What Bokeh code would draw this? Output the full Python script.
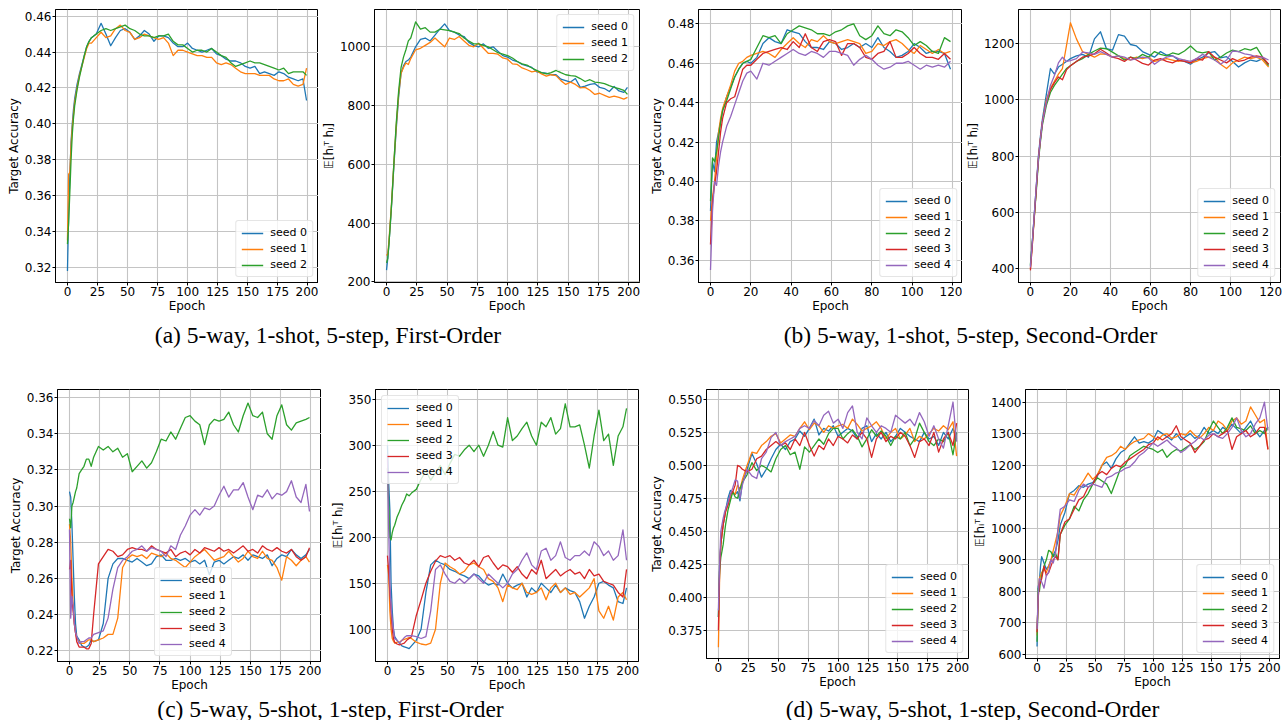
from bokeh.plotting import figure
from bokeh.layouts import column, row
from bokeh.models import Range1d, FixedTicker, PrintfTickFormatter, Legend, LegendItem, Label
from bokeh.embed import file_html
from bokeh.resources import INLINE

# ---------------- epochs (x values) ----------------
EPOCHS_200 = [0, 1, 2, 3, 4, 5, 6,
              8, 10, 12, 14, 16, 18, 20,
              24, 28, 32, 36, 40, 44, 48, 52, 56, 60, 64, 68, 72, 76, 80, 84, 88, 92, 96, 100, 104, 108,
              112, 116, 120, 124, 128, 132, 136, 140, 144, 148, 152, 156, 160, 164, 168, 172, 176, 180, 184, 188, 192, 196, 199]
EPOCHS_120 = [0, 1, 2, 3, 4, 5, 6,
              8, 10, 12, 14, 16, 18, 20,
              23, 26, 29, 32, 35, 38, 41, 44, 47, 50, 53, 56, 59, 62, 65, 68,
              71, 74, 77, 80, 83, 86, 89, 92, 95, 98, 101, 104, 107, 110, 113, 116, 119]

SEED_LABELS = ["seed 0", "seed 1", "seed 2", "seed 3", "seed 4"]
SEED_COLORS = ["#1f77b4", "#ff7f0e", "#2ca02c", "#d62728", "#9467bd"]

# ---------------- (a) 5-way 1-shot 5-step first order ----------------
a_acc_s0 = [.318, .350, .372, .390, .400, .408, .414,
            .422, .428, .433, .438, .443, .446, .448,
            .450, .456, .450, .4435, .448, .452, .453, .451, .447, .449, .452, .450, .446, .449, .449, .448, .445, .443, .443, .445, .442, .441,
            .440, .441, .442, .439, .438, .436, .435, .435, .434, .432, .431, .432, .428, .429, .428, .427, .429, .428, .426, .425, .424, .425, .413]
a_acc_s1 = [.335, .372, .373, .388, .398, .405, .412,
            .420, .427, .432, .437, .442, .445, .445,
            .448, .451, .448, .449, .453, .455, .452, .451, .447, .448, .450, .449, .448, .447, .448, .445, .438, .441, .441, .440, .439, .438,
            .438, .437, .437, .434, .433, .434, .433, .431, .429, .428, .428, .428, .427, .427, .427, .425, .424, .424, .425, .422, .421, .422, .431]
a_acc_s2 = [.333, .345, .362, .380, .394, .403, .410,
            .419, .426, .432, .438, .443, .446, .448,
            .450, .452, .453, .452, .453, .454, .455, .453, .452, .450, .449, .449, .448, .449, .449, .450, .446, .444, .444, .442, .440, .441,
            .441, .440, .442, .440, .438, .437, .434, .432, .433, .434, .435, .434, .434, .433, .432, .431, .430, .431, .428, .429, .429, .429, .427]

a_hth_s0 = [240, 280, 330, 390, 450, 520, 590,
            720, 830, 910, 935, 950, 955, 965,
            1000, 1025, 1030, 1020, 1040, 1060, 1078, 1055, 1050, 1040, 1035, 1015, 1005, 1000, 1010, 995, 1000, 985, 970, 965, 955, 950,
            940, 935, 930, 915, 912, 910, 905, 905, 890, 885, 880, 892, 862, 866, 872, 875, 862, 858, 848, 865, 850, 845, 862]
a_hth_s1 = [290, 295, 340, 400, 460, 530, 600,
            730, 840, 910, 930, 945, 940, 960,
            990, 995, 1005, 1015, 1030, 1015, 1000, 1030, 1025, 1035, 1020, 1005, 1000, 1012, 995, 978, 978, 975, 962, 958, 942, 940,
            928, 922, 915, 918, 908, 900, 905, 902, 885, 872, 880, 872, 860, 862, 852, 838, 842, 835, 828, 832, 828, 822, 828]
a_hth_s2 = [265, 280, 330, 390, 455, 525, 600,
            740, 850, 930, 965, 990, 1020, 1030,
            1085, 1060, 1065, 1050, 1050, 1060, 1058, 1055, 1050, 1045, 1030, 1020, 1010, 1010, 1005, 1000, 990, 980, 975, 970, 962, 950,
            942, 938, 928, 920, 912, 908, 912, 920, 912, 905, 902, 900, 892, 882, 888, 880, 878, 875, 868, 862, 858, 852, 838]

# ---------------- (b) 5-way 1-shot 5-step second order ----------------
b_acc_s0 = [.385, .410, .405, .420, .425, .430, .436,
            .443, .448, .453, .457, .460, .461, .460,
            .463, .470, .473, .471, .470, .477, .476, .475, .471, .468, .468, .467, .471, .470, .467, .468,
            .470, .468, .470, .468, .473, .468, .466, .463, .464, .466, .470, .468, .465, .466, .466, .465, .457]
b_acc_s1 = [.380, .392, .400, .412, .425, .432, .437,
            .443, .449, .456, .460, .461, .463, .464,
            .465, .466, .465, .463, .467, .470, .473, .470, .468, .472, .471, .474, .471, .470, .471, .472,
            .471, .470, .465, .466, .470, .469, .471, .472, .470, .467, .465, .469, .467, .465, .467, .465, .466]
b_acc_s2 = [.390, .412, .410, .415, .422, .430, .436,
            .441, .447, .453, .457, .460, .461, .462,
            .468, .474, .473, .474, .470, .475, .477, .479, .478, .477, .475, .475, .474, .476, .477, .479,
            .480, .474, .472, .474, .479, .475, .474, .477, .476, .473, .469, .471, .469, .466, .465, .473, .471]
b_acc_s3 = [.368, .390, .398, .405, .415, .425, .432,
            .440, .442, .443, .450, .457, .459, .459,
            .462, .465, .466, .467, .468, .467, .471, .468, .475, .468, .466, .471, .472, .471, .464, .470,
            .470, .468, .463, .462, .465, .466, .471, .463, .463, .465, .468, .465, .463, .463, .462, .465, .462]
b_acc_s4 = [.355, .385, .400, .398, .408, .415, .420,
            .428, .433, .439, .445, .451, .455, .456,
            .452, .460, .459, .461, .463, .465, .467, .465, .464, .466, .465, .463, .466, .466, .465, .464,
            .459, .462, .464, .462, .459, .457, .458, .460, .460, .461, .459, .457, .459, .458, .459, .458, .461]

b_hth_s0 = [410, 500, 600, 700, 800, 870, 930,
            1020, 1110, 1090, 1115, 1125, 1135, 1145,
            1155, 1160, 1150, 1215, 1240, 1180, 1175, 1230, 1225, 1195, 1190, 1170, 1160, 1150, 1170, 1158,
            1155, 1140, 1135, 1125, 1140, 1150, 1165, 1170, 1148, 1152, 1135, 1115, 1130, 1140, 1135, 1145, 1125]
b_hth_s1 = [400, 490, 590, 690, 790, 860, 920,
            1000, 1040, 1065, 1090, 1110, 1190, 1272,
            1215, 1170, 1160, 1150, 1162, 1160, 1150, 1155, 1145, 1140, 1150, 1145, 1150, 1135, 1140, 1145,
            1140, 1135, 1140, 1130, 1135, 1145, 1150, 1150, 1125, 1110, 1130, 1140, 1150, 1145, 1150, 1140, 1115]
b_hth_s2 = [415, 500, 590, 680, 780, 850, 910,
            980, 1025, 1050, 1070, 1090, 1110, 1120,
            1135, 1145, 1160, 1172, 1182, 1180, 1168, 1155, 1140, 1150, 1145, 1160, 1150, 1170, 1160, 1155,
            1165, 1160, 1172, 1190, 1170, 1165, 1170, 1140, 1150, 1165, 1175, 1170, 1180, 1175, 1185, 1150, 1120]
b_hth_s3 = [395, 490, 590, 690, 790, 860, 920,
            990, 1035, 1060, 1080, 1070, 1105, 1120,
            1135, 1150, 1155, 1162, 1178, 1165, 1150, 1145, 1135, 1150, 1140, 1128, 1122, 1140, 1145, 1135,
            1130, 1140, 1135, 1130, 1145, 1140, 1170, 1150, 1140, 1130, 1145, 1135, 1140, 1150, 1155, 1150, 1125]
b_hth_s4 = [405, 500, 600, 700, 790, 860, 920,
            990, 1050, 1085, 1130, 1150, 1135, 1138,
            1145, 1168, 1165, 1160, 1170, 1160, 1150, 1155, 1150, 1140, 1145, 1150, 1148, 1125, 1140, 1150,
            1155, 1145, 1140, 1135, 1145, 1160, 1150, 1140, 1125, 1140, 1172, 1170, 1162, 1158, 1150, 1150, 1140]

# ---------------- (c) 5-way 5-shot 1-step first order ----------------
c_acc_s0 = [.308, .305, .290, .270, .250, .235, .228,
            .226, .223, .222, .222, .223, .226, .225,
            .226, .235, .260, .268, .271, .271, .270, .269, .271, .269, .267, .268, .272, .273, .270, .270, .271, .270, .271, .269, .270, .268,
            .270, .262, .269, .270, .268, .270, .272, .271, .273, .270, .273, .272, .271, .273, .267, .271, .273, .272, .276, .273, .271, .273, .276]
c_acc_s1 = [.290, .280, .260, .245, .235, .230, .227,
            .225, .224, .224, .225, .226, .226, .225,
            .226, .227, .229, .229, .238, .266, .271, .273, .272, .273, .271, .274, .273, .272, .274, .271, .270, .268, .266, .269, .272, .274,
            .276, .273, .270, .271, .272, .275, .272, .269, .271, .275, .272, .271, .275, .271, .270, .266, .259, .272, .270, .267, .270, .272, .269]
c_acc_s2 = [.293, .288, .300, .302, .305, .308, .310,
            .318, .320, .322, .326, .326, .322, .327,
            .333, .331, .333, .330, .332, .327, .329, .319, .322, .325, .321, .324, .330, .337, .336, .341, .337, .343, .349, .350, .347, .345,
            .334, .345, .348, .347, .348, .352, .345, .341, .350, .357, .350, .349, .352, .340, .337, .350, .356, .345, .342, .346, .347, .348, .349]
c_acc_s3 = [.265, .270, .250, .242, .235, .230, .225,
            .222, .222, .222, .221, .221, .224, .240,
            .268, .272, .276, .275, .272, .273, .276, .277, .276, .276, .275, .278, .276, .275, .274, .276, .272, .274, .275, .273, .276, .274,
            .277, .276, .275, .277, .275, .276, .274, .276, .278, .275, .276, .274, .278, .276, .275, .277, .275, .274, .276, .272, .270, .272, .277]
c_acc_s4 = [.287, .238, .250, .245, .235, .230, .228,
            .224, .225, .225, .226, .227, .227, .229,
            .230, .231, .238, .254, .266, .270, .272, .275, .276, .278, .275, .277, .276, .275, .272, .278, .276, .284, .289, .295, .298, .295,
            .299, .298, .300, .306, .311, .305, .309, .309, .313, .305, .298, .306, .305, .309, .304, .307, .306, .308, .314, .305, .302, .312, .297]

c_hth_s0 = [300, 260, 230, 150, 120, 100, 92,
            88, 85, 82, 81, 80, 79, 82,
            88, 100, 140, 170, 175, 172, 170, 165, 163, 160, 158, 155, 160, 158, 152, 148, 150, 148, 160, 150, 145, 148,
            150, 135, 145, 140, 150, 145, 140, 148, 140, 145, 142, 140, 130, 112, 125, 135, 150, 152, 148, 145, 130, 128, 145]
c_hth_s1 = [170, 160, 120, 100, 90, 87, 85,
            86, 86, 88, 89, 90, 91, 90,
            86, 84, 83, 85, 100, 150, 172, 168, 165, 160, 163, 170, 172, 168, 165, 155, 152, 145, 130, 148, 145, 143,
            150, 140, 138, 140, 145, 132, 145, 150, 140, 145, 138, 140, 135, 140, 145, 155, 120, 112, 125, 110, 135, 140, 132]
c_hth_s2 = [275, 240, 200, 197, 205, 210, 213,
            222, 228, 235, 240, 247, 245, 248,
            252, 263, 272, 262, 270, 278, 268, 280, 290, 288, 295, 300, 293, 300, 288, 300, 315, 300, 298, 330, 305, 310,
            318, 325, 310, 300, 325, 320, 330, 312, 318, 345, 320, 320, 322, 300, 275, 310, 338, 305, 312, 278, 310, 320, 340]
c_hth_s3 = [180, 165, 140, 120, 100, 90, 86,
            84, 83, 84, 85, 88, 90, 92,
            115, 132, 150, 163, 174, 180, 178, 180, 175, 178, 172, 170, 175, 168, 178, 180, 172, 165, 170, 168, 162, 168,
            160, 155, 165, 160, 175, 155, 160, 165, 158, 162, 165, 160, 162, 155, 165, 158, 160, 152, 150, 148, 140, 135, 165]
c_hth_s4 = [290, 210, 150, 125, 110, 100, 90,
            88, 85, 88, 91, 93, 93, 93,
            92, 90, 92, 120, 165, 170, 160, 152, 150, 155, 150, 155, 160, 155, 150, 160, 155, 150, 145, 150, 160, 165,
            175, 183, 170, 165, 185, 188, 175, 180, 195, 178, 175, 180, 180, 185, 180, 195, 190, 180, 185, 175, 180, 208, 175]

# ---------------- (d) 5-way 5-shot 1-step second order ----------------
d_acc_s0 = [.385, .425, .440, .448, .455, .460, .466,
            .475, .481, .479, .478, .480, .473, .487,
            .497, .509, .501, .491, .497, .505, .512, .516, .512, .518, .520, .526, .522, .528, .535, .523, .528, .526, .530, .522, .525, .528,
            .526, .520, .528, .530, .518, .524, .520, .525, .518, .522, .528, .525, .522, .520, .518, .525, .520, .522, .515, .525, .520, .528, .520]
d_acc_s1 = [.362, .415, .440, .448, .456, .460, .465,
            .470, .475, .480, .478, .485, .482, .489,
            .500, .510, .509, .515, .518, .522, .524, .517, .520, .523, .522, .528, .533, .527, .532, .530, .525, .530, .528, .530, .531, .528,
            .535, .531, .526, .528, .530, .533, .528, .520, .525, .528, .520, .523, .528, .518, .522, .520, .524, .528, .526, .530, .527, .533, .507]
d_acc_s2 = [.385, .420, .430, .435, .440, .448, .455,
            .466, .473, .480, .476, .475, .482, .487,
            .493, .502, .496, .500, .498, .495, .505, .512, .515, .508, .510, .497, .514, .510, .515, .520, .516, .524, .528, .528, .520, .524,
            .527, .522, .514, .520, .527, .522, .526, .522, .515, .522, .520, .525, .515, .520, .532, .525, .518, .515, .520, .518, .525, .508, .525]
d_acc_s3 = [.375, .420, .440, .448, .455, .460, .465,
            .470, .478, .480, .485, .500, .499, .497,
            .495, .497, .505, .507, .512, .515, .518, .515, .517, .512, .520, .515, .525, .515, .507, .515, .512, .520, .515, .522, .520, .517,
            .523, .520, .525, .520, .506, .520, .525, .518, .522, .520, .525, .522, .515, .506, .518, .520, .515, .525, .510, .520, .525, .515, .532]
d_acc_s4 = [.390, .425, .450, .455, .460, .464, .467,
            .472, .478, .483, .489, .488, .475, .485,
            .497, .492, .490, .505, .510, .521, .525, .515, .518, .520, .522, .528, .530, .528, .534, .530, .538, .541, .532, .535, .528, .540,
            .545, .525, .520, .536, .530, .525, .530, .528, .525, .538, .535, .532, .535, .530, .540, .533, .522, .530, .520, .513, .530, .548, .518]

d_hth_s0 = [625, 815, 830, 880, 910, 900, 890,
            870, 880, 900, 915, 930, 960, 1010,
            1050, 1110, 1120, 1135, 1130, 1140, 1145, 1165, 1200, 1210, 1190, 1220, 1240, 1250, 1270, 1290, 1270, 1275, 1270, 1280, 1310, 1300,
            1290, 1280, 1300, 1280, 1290, 1300, 1285, 1295, 1320, 1300, 1310, 1300, 1320, 1310, 1330, 1315, 1300, 1320, 1340, 1310, 1290, 1310, 1320]
d_hth_s1 = [660, 790, 840, 850, 860, 865, 870,
            860, 880, 900, 930, 960, 990, 1040,
            1070, 1110, 1105, 1130, 1150, 1175, 1155, 1170, 1200, 1225, 1230, 1240, 1260, 1250, 1265, 1275, 1280, 1285, 1300, 1290, 1280, 1295,
            1300, 1285, 1290, 1300, 1295, 1310, 1295, 1285, 1300, 1320, 1310, 1340, 1330, 1310, 1340, 1350, 1330, 1340, 1385, 1360, 1335, 1345, 1250]
d_hth_s2 = [640, 810, 800, 830, 850, 865, 880,
            900, 930, 925, 910, 920, 900, 980,
            1010, 1030, 1070, 1055, 1090, 1110, 1140, 1160, 1150, 1140, 1110, 1150, 1190, 1200, 1230, 1240, 1250, 1260, 1255, 1250, 1240, 1250,
            1225, 1240, 1250, 1245, 1255, 1265, 1250, 1260, 1275, 1310, 1340, 1320, 1300, 1320, 1350, 1320, 1315, 1310, 1325, 1300, 1310, 1300, 1320]
d_hth_s3 = [670, 780, 820, 830, 840, 860, 880,
            850, 860, 880, 900, 910, 900, 980,
            1020, 1030, 1060, 1090, 1100, 1130, 1140, 1170, 1180, 1170, 1190, 1200, 1195, 1210, 1220, 1230, 1240, 1250, 1265, 1270, 1290, 1280,
            1290, 1300, 1325, 1290, 1280, 1270, 1240, 1260, 1280, 1285, 1300, 1290, 1300, 1310, 1250, 1290, 1300, 1310, 1290, 1300, 1320, 1320, 1250]
d_hth_s4 = [680, 790, 840, 835, 830, 820, 810,
            850, 860, 900, 890, 920, 1000, 1060,
            1070, 1090, 1085, 1120, 1140, 1130, 1140, 1135, 1130, 1160, 1165, 1175, 1180, 1190, 1195, 1210, 1230, 1240, 1255, 1270, 1260, 1270,
            1280, 1265, 1255, 1240, 1250, 1265, 1275, 1290, 1280, 1295, 1300, 1290, 1285, 1300, 1320, 1350, 1310, 1290, 1300, 1330, 1350, 1400, 1310]

# ---------------- ticks / labels ----------------
XTICKS_200 = [0, 25, 50, 75, 100, 125, 150, 175, 200]
XTICKS_120 = [0, 20, 40, 60, 80, 100, 120]
YT_A_ACC = [0.32, 0.34, 0.36, 0.38, 0.40, 0.42, 0.44, 0.46]
YT_A_HTH = [200, 400, 600, 800, 1000]
YT_B_ACC = [0.36, 0.38, 0.40, 0.42, 0.44, 0.46, 0.48]
YT_B_HTH = [400, 600, 800, 1000, 1200]
YT_C_ACC = [0.22, 0.24, 0.26, 0.28, 0.30, 0.32, 0.34, 0.36]
YT_C_HTH = [100, 150, 200, 250, 300, 350]
YT_D_ACC = [0.375, 0.400, 0.425, 0.450, 0.475, 0.500, 0.525, 0.550]
YT_D_HTH = [600, 700, 800, 900, 1000, 1100, 1200, 1300, 1400]

ACC_LABEL = "Target Accuracy"
HTH_LABEL = "\U0001D53C[h\u1D62\u1D40 h\u2C7C]"
CAPTIONS = ["(a) 5-way, 1-shot, 5-step, First-Order",
            "(b) 5-way, 1-shot, 5-step, Second-Order",
            "(c) 5-way, 5-shot, 1-step, First-Order",
            "(d) 5-way, 5-shot, 1-step, Second-Order"]

FONT = "DejaVu Sans"


def panel(xs, series, xr, yr, xticks, yticks, yfmt, ylabel, legend_loc, legend_margin,
          fw, fh, bl, bt, br, bb):
    p = figure(frame_width=fw, frame_height=fh,
               min_border_left=bl, min_border_top=bt, min_border_right=br, min_border_bottom=bb,
               x_range=Range1d(*xr), y_range=Range1d(*yr),
               toolbar_location=None, output_backend="svg")
    p.background_fill_color = "white"
    p.border_fill_color = "white"
    p.outline_line_color = "black"
    p.outline_line_width = 1
    p.outline_line_alpha = 1

    p.xaxis.ticker = FixedTicker(ticks=xticks)
    p.yaxis.ticker = FixedTicker(ticks=yticks)
    p.yaxis.formatter = PrintfTickFormatter(format=yfmt)
    for ax in (p.xaxis[0], p.yaxis[0]):
        ax.axis_line_color = "black"
        ax.major_tick_line_color = "black"
        ax.major_tick_out = 3
        ax.major_tick_in = 0
        ax.minor_tick_line_color = None
        ax.major_label_text_font = FONT
        ax.major_label_text_font_size = "12px"
        ax.major_label_text_color = "black"
        ax.major_label_standoff = 1
        ax.axis_label_text_font = FONT
        ax.axis_label_text_font_style = "normal"
        ax.axis_label_text_font_size = "12px"
        ax.axis_label_text_color = "black"
        ax.axis_label_standoff = 1
    p.xaxis.axis_label = "Epoch"
    p.xaxis.axis_label_standoff = 0
    p.yaxis.axis_label = ylabel

    p.grid.grid_line_color = "#c4c4c4"
    p.grid.grid_line_width = 1.1

    items = []
    for i, ys in enumerate(series):
        n = min(len(xs), len(ys))
        r = p.line(xs[:n], ys[:n], line_color=SEED_COLORS[i], line_width=1.3, line_join="round")
        items.append(LegendItem(label=SEED_LABELS[i], renderers=[r]))
    leg = Legend(items=items, location=legend_loc)
    leg.margin = legend_margin
    leg.padding = 5
    leg.spacing = 3
    leg.glyph_width = 22
    leg.glyph_height = 12
    leg.label_height = 12
    leg.label_standoff = 7
    leg.label_text_font = FONT
    leg.label_text_font_size = "11px"
    leg.label_text_color = "black"
    leg.border_line_color = "#cccccc"
    leg.border_line_width = 1
    leg.background_fill_color = "white"
    leg.background_fill_alpha = 0.8
    if hasattr(leg, "border_radius"):
        leg.border_radius = 3
    p.add_layout(leg)
    return p


XR200 = (-9.95, 208.95)
XR120 = (-5.95, 124.95)

# row 1 (page starts at x=0, y=0)
f1 = panel(EPOCHS_200, [a_acc_s0, a_acc_s1, a_acc_s2], XR200, (0.3116, 0.4637), XTICKS_200, YT_A_ACC, "%.2f",
           ACC_LABEL, "bottom_right", 5, 263, 273, 55, 9, 0, 34)
f2 = panel(EPOCHS_200, [a_hth_s0, a_hth_s1, a_hth_s2], XR200, (198, 1127), XTICKS_200, YT_A_HTH, "%d",
           HTH_LABEL, "top_right", 5, 265, 273, 55, 9, 3, 34)
f3 = panel(EPOCHS_120, [b_acc_s0, b_acc_s1, b_acc_s2, b_acc_s3, b_acc_s4], XR120, (0.3487, 0.4873), XTICKS_120,
           YT_B_ACC, "%.2f", ACC_LABEL, "bottom_right", 5, 264, 273, 56, 9, 0, 34)
f4 = panel(EPOCHS_120, [b_hth_s0, b_hth_s1, b_hth_s2, b_hth_s3, b_hth_s4], XR120, (352, 1319), XTICKS_120,
           YT_B_HTH, "%d", HTH_LABEL, "bottom_right", 5, 262, 273, 55, 9, 5, 34)

# row 2
f5 = panel(EPOCHS_200, [c_acc_s0, c_acc_s1, c_acc_s2, c_acc_s3, c_acc_s4], XR200, (0.2140, 0.3645), XTICKS_200,
           YT_C_ACC, "%.2f", ACC_LABEL, (97, 5), 0, 264, 272, 57, 34, 0, 34)
f6 = panel(EPOCHS_200, [c_hth_s0, c_hth_s1, c_hth_s2, c_hth_s3, c_hth_s4], XR200, (65, 360.5), XTICKS_200,
           YT_C_HTH, "%d", HTH_LABEL, "top_left", 6, 263, 272, 54, 34, 8, 34)
f7 = panel(EPOCHS_200, [d_acc_s0, d_acc_s1, d_acc_s2, d_acc_s3, d_acc_s4], XR200, (0.3535, 0.5575), XTICKS_200,
           YT_D_ACC, "%.3f", ACC_LABEL, "bottom_right", 5, 262, 269, 60, 37, 1, 34)
f8 = panel(EPOCHS_200, [d_hth_s0, d_hth_s1, d_hth_s2, d_hth_s3, d_hth_s4], XR200, (587, 1440), XTICKS_200,
           YT_D_HTH, "%d", HTH_LABEL, "bottom_right", 5, 254, 269, 55, 37, 5, 34)


def caption_fig(height, entries):
    c = figure(width=1283, height=height, min_border=0, x_range=Range1d(0, 1), y_range=Range1d(0, 1),
               x_axis_location=None, y_axis_location=None,
               toolbar_location=None, output_backend="svg")
    c.grid.visible = False
    c.outline_line_color = None
    c.background_fill_color = "white"
    c.border_fill_color = "white"
    for cx, cy, txt in entries:
        c.add_layout(Label(x=cx, y=cy, x_units="screen", y_units="screen", text=txt,
                           text_align="center", text_baseline="middle",
                           text_font="Liberation Serif", text_font_size="23.5px", text_color="black"))
    return c


cap1 = caption_fig(36, [(327.5, 18, CAPTIONS[0]), (970, 18, CAPTIONS[1])])
cap2 = caption_fig(28, [(330, 12, CAPTIONS[2]), (972, 12, CAPTIONS[3])])

layout = column(row(f1, f2, f3, f4), cap1, row(f5, f6, f7, f8), cap2)

with open("out.html", "w") as fh:
    fh.write(file_html(layout, INLINE))
